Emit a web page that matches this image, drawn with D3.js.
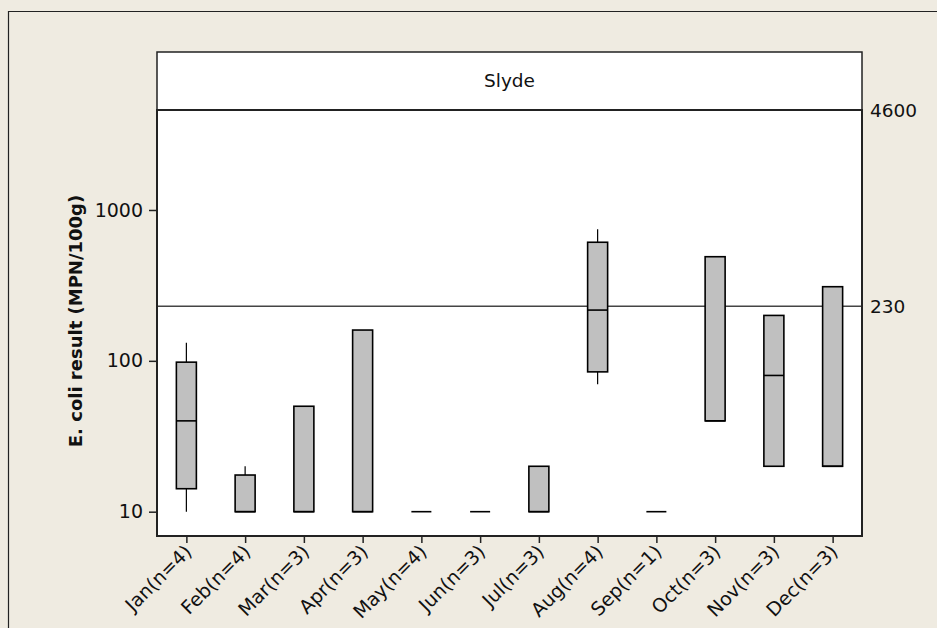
<!DOCTYPE html>
<html>
<head>
<meta charset="utf-8">
<script src="https://cdn.jsdelivr.net/npm/d3@7"></script>
<style>
  html, body { margin: 0; padding: 0; background: #efebe1; }
  svg { display: block; }
  text { font-family: "DejaVu Sans", sans-serif; fill: #111; }
</style>
</head>
<body>
<svg id="chart" width="937" height="628"></svg>
<script>
// E. coli results by month at Slyde (MPN/100g), summarised as box plots
const months = ["Jan", "Feb", "Mar", "Apr", "May", "Jun", "Jul", "Aug", "Sep", "Oct", "Nov", "Dec"];
const counts = [4, 4, 3, 3, 4, 3, 3, 4, 1, 3, 3, 3];
const whiskerLow  = [10, 10, 10, 10, 10, 10, 10, 70, 10, 40, 20, 20];
const q1          = [14.2, 10, 10, 10, 10, 10, 10, 84.5, 10, 40, 20, 20];
const median      = [40, 10, 10, 10, 10, 10, 10, 217, 10, 40, 80, 20];
const q3          = [98, 17.5, 50, 160, 10, 10, 20, 611, 10, 490, 200, 310];
const whiskerHigh = [132, 20, 50, 160, 10, 10, 20, 745, 10, 490, 200, 310];

const yTicks = [10, 100, 1000];
const refLines = [230, 4600];
const yExtent = [6.9, 4600];
const siteName = "Slyde";
const yTitle = "E. coli result  (MPN/100g)";

const labels = months.map((m, i) => `${m}(n=${counts[i]})`);
const data = months.map((m, i) => ({
  label: labels[i],
  lo: whiskerLow[i], q1: q1[i], med: median[i], q3: q3[i], hi: whiskerHigh[i]
}));

const svg = d3.select("#chart");

// outer frame
svg.append("path")
  .attr("d", "M8.5,628 V11.5 H937")
  .attr("fill", "none").attr("stroke", "#222").attr("stroke-width", 1.2);

const plot = { left: 157, right: 862, top: 110, bottom: 536, stripTop: 52 };

const x = d3.scalePoint().domain(labels).range([plot.left, plot.right]).padding(0.5);
const y = d3.scaleLog().domain(yExtent).range([plot.bottom, plot.top]);

// strip header
svg.append("rect")
  .attr("x", plot.left).attr("y", plot.stripTop)
  .attr("width", plot.right - plot.left).attr("height", plot.top - plot.stripTop)
  .attr("fill", "#fff").attr("stroke", "#222").attr("stroke-width", 1.5);
svg.append("text")
  .attr("x", (plot.left + plot.right) / 2).attr("y", (plot.stripTop + plot.top) / 2)
  .attr("dy", "0.35em").attr("text-anchor", "middle")
  .style("font-size", "18.5px").text(siteName);

// plot panel
svg.append("rect")
  .attr("x", plot.left).attr("y", plot.top)
  .attr("width", plot.right - plot.left).attr("height", plot.bottom - plot.top)
  .attr("fill", "#fff");

// reference lines
svg.append("g").selectAll("line").data(refLines).join("line")
  .attr("x1", plot.left).attr("x2", plot.right)
  .attr("y1", d => y(d)).attr("y2", d => y(d))
  .attr("stroke", "#444").attr("stroke-width", 1.3);
svg.append("g").selectAll("text").data(refLines).join("text")
  .attr("x", plot.right + 8).attr("y", d => y(d))
  .attr("dy", "0.38em")
  .style("font-size", "18.5px").text(d => d);

// boxes
const bw = 20;
const g = svg.append("g");
g.selectAll("line.whisker").data(data).join("line")
  .attr("class", "whisker")
  .attr("x1", d => x(d.label)).attr("x2", d => x(d.label))
  .attr("y1", d => y(d.lo)).attr("y2", d => y(d.hi))
  .attr("stroke", "#000").attr("stroke-width", 1.2);
g.selectAll("rect.box").data(data).join("rect")
  .attr("class", "box")
  .attr("x", d => x(d.label) - bw / 2).attr("width", bw)
  .attr("y", d => y(d.q3)).attr("height", d => y(d.q1) - y(d.q3))
  .attr("fill", "#c0c0c0").attr("stroke", "#000").attr("stroke-width", 1.6);
g.selectAll("line.median").data(data).join("line")
  .attr("class", "median")
  .attr("x1", d => x(d.label) - bw / 2).attr("x2", d => x(d.label) + bw / 2)
  .attr("y1", d => y(d.med)).attr("y2", d => y(d.med))
  .attr("stroke", "#000").attr("stroke-width", 1.6);

// axes
const yAxis = d3.axisLeft(y).tickValues(yTicks).tickFormat(d3.format("d")).tickSize(8).tickPadding(6);
const ya = svg.append("g").attr("transform", `translate(${plot.left},0)`).call(yAxis);
ya.select(".domain").remove();
ya.selectAll(".tick line").attr("stroke", "#222").attr("stroke-width", 1.5);
ya.selectAll(".tick text").style("font-size", "19px").attr("fill", "#111");

const xAxis = d3.axisBottom(x).tickSize(7).tickPadding(4);
const xa = svg.append("g").attr("transform", `translate(0,${plot.bottom})`).call(xAxis);
xa.select(".domain").remove();
xa.selectAll(".tick line").attr("stroke", "#222").attr("stroke-width", 1.5);
xa.selectAll(".tick text")
  .style("font-size", "19px").attr("fill", "#111")
  .attr("text-anchor", "end")
  .attr("dy", null).attr("y", null)
  .attr("transform", "translate(6,17) rotate(-45)");

// panel border
svg.append("rect")
  .attr("x", plot.left).attr("y", plot.top)
  .attr("width", plot.right - plot.left).attr("height", plot.bottom - plot.top)
  .attr("fill", "none").attr("stroke", "#222").attr("stroke-width", 2);

// y title
svg.append("text")
  .attr("transform", `translate(82,${(plot.top + plot.bottom) / 2 - 2}) rotate(-90)`)
  .attr("text-anchor", "middle")
  .style("font-size", "18px").style("font-weight", "bold")
  .text(yTitle);
</script>
</body>
</html>
